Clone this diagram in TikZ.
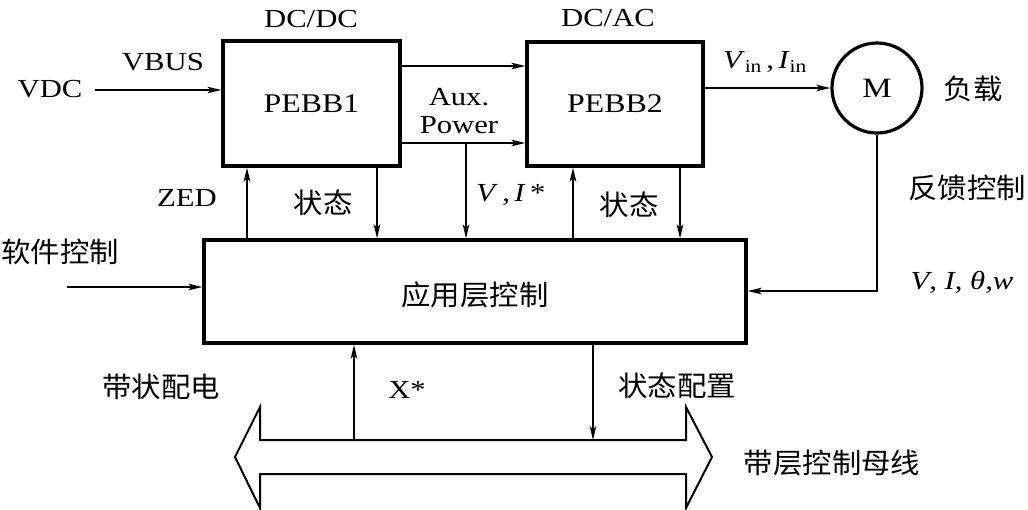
\documentclass[tikz,border=0pt]{standalone}
\usepackage{fontspec}
\setmainfont{Liberation Serif}[FakeStretch=1.18]
\newfontfamily\cjk{Noto Sans CJK SC}[FakeStretch=1.05]
\usetikzlibrary{arrows.meta}
\begin{document}
\begin{tikzpicture}[x=1pt,y=-1pt,
  lat/.style={font=\fontsize{26}{30}\selectfont, inner sep=0pt},
  cj/.style={font=\cjk\fontsize{28}{32}\selectfont, inner sep=0pt},
  box/.style={draw, line width=3.2pt, inner sep=0pt, font=\fontsize{27}{30}\selectfont},
  arr/.style={-{Stealth[length=14pt,width=6.5pt,inset=3.5pt]}, line width=1.5pt},
  arrb/.style={arr, line width=2.1pt},
  busline/.style={line width=2pt, line join=miter}]
\useasboundingbox (0,0) rectangle (1028,509);
% blocks
\node[box, minimum width=177pt, minimum height=125pt] (p1) at (311.5,103.5) {PEBB1};
\node[box, minimum width=176pt, minimum height=124pt] (p2) at (615,104) {PEBB2};
\node[draw, circle, line width=3.2pt, minimum size=90pt, inner sep=0pt, font=\fontsize{28}{30}\selectfont] (m) at (877,88) {M};
\node[box, minimum width=542pt, minimum height=103pt] (app) at (475,291.5) {};
\node[cj] (tapp) at (475,295) {应用层控制};
% labels
\node[lat] (dcdc) at (311,19) {DC/DC};
\node[lat] (dcac) at (608,18) {DC/AC};
\node[lat] (vdc) at (50,89) {VDC};
\node[lat] (vbus) at (163,62) {VBUS};
\node[lat] (aux) at (459,97) {Aux.};
\node[lat] (pow) at (459,125) {Power};
\node[lat] (vi) at (511,195) {\textit{V}\,,\,\textit{I}\,*};
\node[lat] (zed) at (187,198) {ZED};
\node[cj] (st1) at (323,203) {状态};
\node[cj] (st2) at (629,205) {状态};
\node[lat] (vin) at (765,62) {\textit{V}\textsubscript{in}\,,\,\textit{I}\textsubscript{in}};
\node[cj] (load) at (973,89) {负载};
\node[cj] (fb) at (967,188) {反馈控制};
\node[lat] (vitw) at (962,282) {\textit{V}, \textit{I}, \textit{θ},\textit{w}};
\node[cj] (sw) at (60,252) {软件控制};
\node[cj] (dzpd) at (161,387) {带状配电};
\node[lat] (xs) at (407,390) {X*};
\node[cj] (stpz) at (677,386) {状态配置};
\node[cj] (bus) at (832,463) {带层控制母线};
% helper coordinates
\coordinate (yin) at (0,90);
\coordinate (ya) at (0,66);
\coordinate (yb) at (0,143);
\coordinate (xv) at (466,0);
\coordinate (xz) at (247,0);
\coordinate (xs1) at (377,0);
\coordinate (xu2) at (573,0);
\coordinate (xd2) at (680,0);
\coordinate (yf) at (0,291);
\coordinate (ys) at (0,287);
\coordinate (swstart) at (67,287);
\coordinate (vdcstart) at (95,90);
\coordinate (bt) at (0,440);
\coordinate (xx) at (354,0);
\coordinate (xd) at (593,0);
% connectors
\draw[arr] (vdcstart) -- (p1.west |- yin);
\draw[arrb] (p1.east |- ya) -- (p2.west |- ya);
\draw[arrb] (p1.east |- yb) -- (p2.west |- yb);
\draw[arr] (xv |- yb) -- (app.north -| xv);
\draw[arrb] (app.north -| xz) -- (p1.south -| xz);
\draw[arrb] (p1.south -| xs1) -- (app.north -| xs1);
\draw[arrb] (app.north -| xu2) -- (p2.south -| xu2);
\draw[arrb] (p2.south -| xd2) -- (app.north -| xd2);
\draw[arrb] (p2.east |- m.west) -- (m.west);
\draw[arr] (m.south) -- (m.south |- yf) -- (app.east |- yf);
\draw[arrb] (swstart) -- (app.west |- ys);
% bus
\draw[busline] (260,407) -- (260,440) -- (686,440) -- (686,407) -- (712,457) -- (686,508) -- (686,474) -- (260,474) -- (260,508) -- (235,457) -- cycle;
\draw[arr] (xx |- bt) -- (app.south -| xx);
\draw[arr] (app.south -| xd) -- (xd |- bt);
\end{tikzpicture}
\end{document}
